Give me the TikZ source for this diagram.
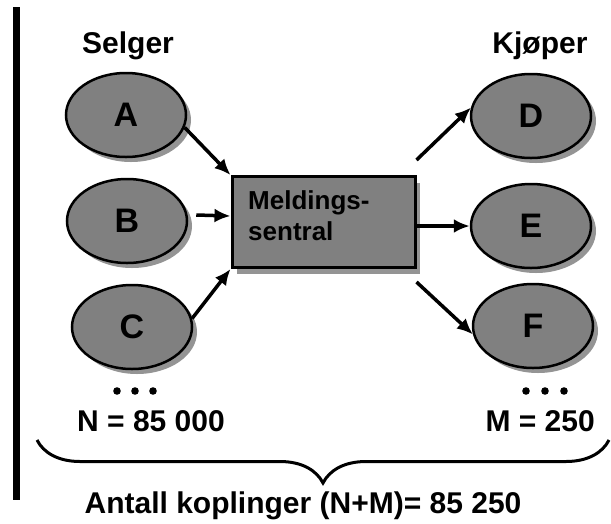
\documentclass[tikz,border=0pt]{standalone}
\usepackage{fontspec}
\setmainfont{Liberation Sans}
\usetikzlibrary{shapes.geometric,shadows,arrows.meta,decorations.pathreplacing}
\colorlet{nodegray}{black!50}
\colorlet{shadegray}{black!42}

\begin{document}
\begin{tikzpicture}[x=1pt,y=-1pt,
    party/.style={ellipse,draw,line width=2.5pt,fill=nodegray,
        minimum width=120pt,minimum height=84pt,inner sep=0pt,
        drop shadow={shadow xshift=5pt,shadow yshift=-5pt,fill=shadegray,opacity=1},
        font=\fontsize{34}{36}\selectfont\bfseries},
    hub/.style={rectangle,draw,line width=3pt,fill=nodegray,
        minimum width=183pt,minimum height=91pt,inner sep=0pt,
        drop shadow={shadow xshift=5pt,shadow yshift=-6pt,fill=shadegray,opacity=1}},
    arr/.style={line width=3.5pt,-{Latex[length=16pt,width=14pt]}},
    lbl/.style={inner sep=0pt,font=\fontsize{30}{33}\selectfont\bfseries}]
            \useasboundingbox (0,0) rectangle (611,523);
            \fill (13,7) rectangle (20,500);

            \node[lbl,anchor=base] (sel) at (128,53) {Selger};
            \node[lbl,anchor=base] (kjo) at (540,53) {Kjøper};

            \node[party] (A) at (126,115) {A};
            \node[party] (B) at (127,221) {B};
            \node[party] (C) at (132,327) {C};
            \node[party] (D) at (531,116) {D};
            \node[party] (E) at (531,226) {E};
            \node[party] (F) at (533,326) {F};

            \node[hub] (msg) at (323.5,222) {};
            \node[inner sep=0pt,anchor=north west,align=left,
                font=\fontsize{26}{31}\selectfont\bfseries] (msgtxt) at (248,190) {Meldings-\\sentral};

            \draw[arr] (A.-12) -- (msg.north west);
            \draw[arr] ([xshift=8pt,yshift=6pt]B.east) -- ([yshift=6pt]msg.west);
            \draw[arr] (C.8) -- (msg.south west);
            \draw[arr] ([yshift=15pt]msg.north east) -- (D.172);
            \draw[arr] ([yshift=-4pt]msg.east) -- (E.west);
            \draw[arr] ([yshift=-13pt]msg.south east) -- (F.-172);

            \foreach \x in {117,135,153,526,545,564} {
                \fill (\x,391) circle (3.8);
            }
            \node[lbl,anchor=base west] (nval) at (77,431) {N = 85 000};
            \node[lbl,anchor=base east] (mval) at (595,431) {M = 250};

            \draw[decorate,decoration={brace,amplitude=43pt},line width=3pt] (609,440) -- (37,440);
            \node[lbl,anchor=base] (sum) at (303,513) {Antall koplinger (N+M)= 85 250};
\end{tikzpicture}
\end{document}
